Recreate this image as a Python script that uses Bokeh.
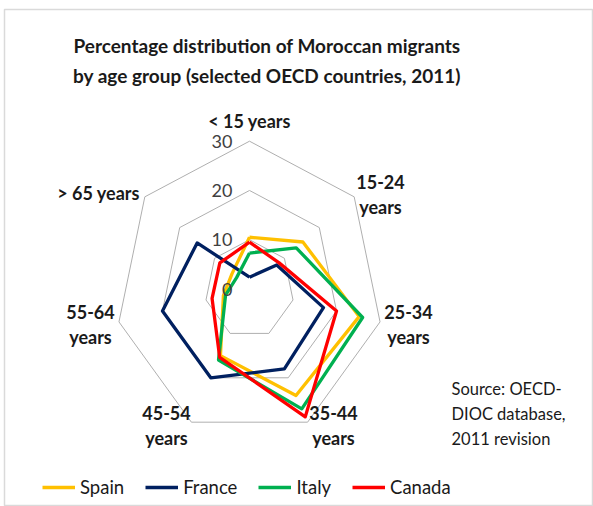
import math
from bokeh.plotting import figure
from bokeh.models import Range1d, Legend, LegendItem
from bokeh.core.properties import value
from bokeh.embed import file_html
from bokeh.resources import INLINE

# ---------------- data ----------------
categories = ["< 15 years", "15-24 years", "25-34 years", "35-44 years",
              "45-54 years", "55-64 years", "> 65 years"]
cat_labels = ["< 15 years", "15-24\nyears", "25-34\nyears", "35-44\nyears",
              "45-54\nyears", "55-64\nyears", "> 65 years"]
spain = [10.5, 15.3, 25.2, 24.0, 15.0, 6.0, 5.0]
france = [2.4, 7.8, 17.0, 18.0, 20.0, 20.0, 15.0]
italy = [7.3, 13.4, 26.0, 27.0, 16.0, 5.5, 3.7]
canada = [9.5, 8.5, 20.0, 28.8, 15.4, 8.6, 8.5]
series_names = ["Spain", "France", "Italy", "Canada"]
series_values = [spain, france, italy, canada]
ring_values = [10, 20, 30]
tick_values = [0, 10, 20, 30]
tick_labels = ["0", "10", "20", "30"]

# ---------------- layout ----------------
TW, TH = 593, 506              # total canvas
BL, BT, BR = 4, 9, 1           # borders around the frame
FW, FH = TW - BL - BR, TH - BT
SX, SY = 4.463, 4.927          # px per unit (chart is slightly stretched)
CX, CY = 249.0, 288.5          # page px of the radar centre
x0 = -(CX - BL) / SX
x1 = x0 + FW / SX
y1 = (CY - BT) / SY
y0 = y1 - FH / SY


def X(px):
    return (px - CX) / SX


def Y(py):
    return (CY - py) / SY


n = len(categories)
angles = [2 * math.pi * i / n for i in range(n)]


def polar(vals):
    xs = [v * math.sin(a) for v, a in zip(vals, angles)]
    ys = [v * math.cos(a) for v, a in zip(vals, angles)]
    return xs + xs[:1], ys + ys[:1]


p = figure(width=TW, height=TH, output_backend="svg", toolbar_location=None,
           x_range=Range1d(x0, x1), y_range=Range1d(y0, y1),
           min_border_left=BL, min_border_top=BT, min_border_right=BR,
           min_border_bottom=0, background_fill_color="white")
p.xaxis.visible = False
p.yaxis.visible = False
p.grid.visible = False
p.outline_line_color = "#DADADA"
p.outline_line_width = 1.5

FONT = "Lato"

# rings
for r in ring_values:
    xs, ys = polar([r] * n)
    p.line(xs, ys, line_color="#AFAFAF", line_width=1)

# series
colors = ["#FFC000", "#002060", "#00B050", "#FF0000"]
items = []
for name, vals, c in zip(series_names, series_values, colors):
    xs, ys = polar(vals)
    r = p.line(xs, ys, line_color=c, line_width=3.3, line_join="round")
    items.append(LegendItem(label=name, renderers=[r]))

# tick labels
p.text(x=[0] * len(tick_values), y=tick_values, text=tick_labels,
       x_offset=-17, text_align="right", text_baseline="middle",
       text_font=value(FONT), text_font_size="18px", text_color="#404040")

# category labels (page px positions of label centres)
lab_px = [(249, 120), (380, 194), (408, 324), (333, 425),
          (166, 425), (90, 324), (98, 192)]
p.text(x=[X(a) for a, b in lab_px], y=[Y(b) for a, b in lab_px], text=cat_labels,
       text_align="center", text_baseline="middle", text_line_height=1.15,
       text_font=value(FONT), text_font_style="bold", text_font_size="18px",
       text_color="#1a1a1a")

# title
title_lines = ["Percentage distribution of Moroccan migrants",
               "by age group (selected OECD countries, 2011)"]
p.text(x=[X(266.5)] * 2, y=[Y(45), Y(75)], text=title_lines,
       text_align="center", text_baseline="middle",
       text_font=value(FONT), text_font_style="bold", text_font_size="19px",
       text_color="#1a1a1a")

# source note
src_lines = ["Source: OECD-", "DIOC database,", "2011 revision"]
p.text(x=[X(451)] * 3, y=[Y(388), Y(413), Y(438)], text=src_lines,
       text_align="left", text_baseline="middle",
       text_font=value(FONT), text_font_size="16.5px", text_color="#1a1a1a")

legend = Legend(items=items, orientation="horizontal", location=(38, 8),
                glyph_width=33, glyph_height=16, label_height=16,
                label_standoff=5, spacing=21, padding=0, margin=0,
                label_text_font=FONT, label_text_font_size="18.5px",
                label_text_color="#1a1a1a", border_line_color=None,
                background_fill_alpha=0)
p.add_layout(legend)

open("out.html", "w").write(file_html(p, INLINE))
